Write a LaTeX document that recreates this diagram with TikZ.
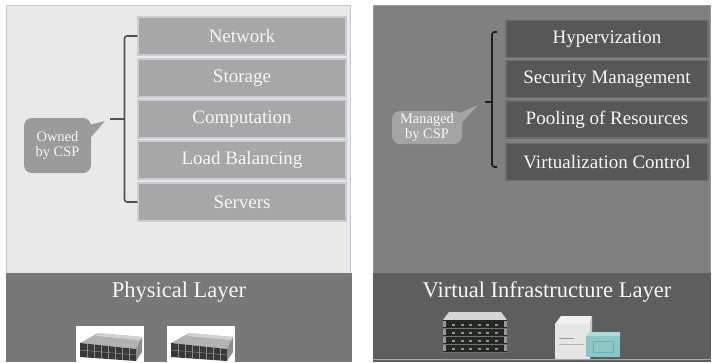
\documentclass[tikz,border=0pt]{standalone}
\usepackage{fontspec}
\setmainfont{Liberation Serif}
\usetikzlibrary{calc}
\definecolor{lightpanel}{HTML}{E9E9EA}
\definecolor{lightedge}{HTML}{C6CAD4}
\definecolor{physbox}{HTML}{A7A7A7}
\definecolor{physboxedge}{HTML}{C9CCD3}
\definecolor{physband}{HTML}{787878}
\definecolor{virtpanel}{HTML}{808080}
\definecolor{virtbox}{HTML}{575757}
\definecolor{virtboxedge}{HTML}{6C6C6C}
\definecolor{virtband}{HTML}{5E5E5E}
\definecolor{bubbleL}{HTML}{9B9B9B}
\definecolor{bubbleR}{HTML}{A4A4A4}
\definecolor{txt}{HTML}{F6F6F6}
\tikzset{
  layerbox/.style={minimum height=38, inner sep=0pt, text=txt,
    font=\fontsize{19}{21}\selectfont, line width=1.3},
  physitem/.style={layerbox, fill=physbox, draw=physboxedge, minimum width=208},
  virtitem/.style={layerbox, fill=virtbox, draw=virtboxedge, minimum width=202, minimum height=37},
  layertitle/.style={text=txt, font=\fontsize{22.5}{24}\selectfont, inner sep=0pt},
  bubble/.style={rounded corners=8, inner sep=1pt, text=txt, align=center,
    font=\fontsize{14.5}{15.5}\selectfont},
  bracket/.style={line width=1.6, rounded corners=2.5},
}
\begin{document}
\begin{tikzpicture}[x=1pt,y=-1pt]
\useasboundingbox (0,0) rectangle (714,362);
\fill[white] (0,0) rectangle (714,362);

% ---- physical layer panel ----
\fill[lightpanel] (6,5) rectangle (351,273);
\draw[lightedge, line width=1.2] (6.6,273) -- (6.6,5.6) -- (350.4,5.6) -- (350.4,273);
\fill[physband] (6,273) rectangle (352,362);

\node[physitem] (net) at (242,36)  {Network};
\node[physitem] (sto) at (242,78)  {Storage};
\node[physitem] (cmp) at (242,119) {Computation};
\node[physitem] (lbl) at (242,160) {Load Balancing};
\node[physitem] (srv) at (242,202) {Servers};

\coordinate (bl) at (124.5,119);
\coordinate (tipL) at (110,119);
\draw[bracket, draw=black!68] (net.west) -- (net.west -| bl) -- (srv.west -| bl) -- (srv.west);
\draw[line width=1.6, draw=black!68] (bl) -- (tipL);

\node[bubble, fill=bubbleL, minimum width=67, minimum height=55] (owned) at (57.5,145.5) {Owned\\by CSP};
\fill[bubbleL] ($(owned.east)+(-4,-20)$) -- ($(tipL)+(-5,2)$) -- ($(owned.east)+(-4,-4)$) -- cycle;

\node[layertitle] (phys) at (179,292) {Physical Layer};

% disk enclosures of the physical layer
\tikzset{diskunit/.pic={
  \fill[white] (0,0) rectangle (68,36);
  \fill[black!30] (4,17) -- (22,7) -- (66,11) -- (60,23) -- cycle;
  \fill[black!18] (22,7) -- (66,11) -- (64,14) -- (20,10) -- cycle;
  \fill[black!78] (4,17) -- (60,23) -- (60,35) -- (4,31) -- cycle;
  \fill[black!45] (60,23) -- (66,11) -- (66,26) -- (60,35) -- cycle;
  \foreach \k in {1,...,7} {
    \draw[black!45, line width=0.5] ($(4,17)!{\k/8}!(60,23)$) -- ($(4,31)!{\k/8}!(60,35)$);
  }
  \draw[black!45, line width=0.5] (4,24) -- (60,29);
}}
\pic (encA) at (76,326) {diskunit};
\pic (encB) at (167,326) {diskunit};

% ---- virtual infrastructure panel ----
\fill[virtpanel] (373,5) rectangle (711,273);
\draw[black!40, line width=0.8] (373.4,273) -- (373.4,5.4) -- (710.6,5.4) -- (710.6,273);
\fill[virtband] (373,273) rectangle (711,362);
\draw[black!35, line width=1] (373,359.5) -- (711,359.5);

\node[virtitem] (hyp) at (607,39)    {Hypervization};
\node[virtitem] (sec) at (607,79)    {Security Management};
\node[virtitem] (poo) at (607,119.5) {Pooling of Resources};
\node[virtitem] (vct) at (607,162)   {Virtualization Control};

\coordinate (brT) at (497,32);
\coordinate (brB) at (497,167);
\coordinate (br) at (492,102);
\coordinate (tipR) at (485,102);
\draw[bracket, draw=black!88] (brT) -- (brT -| br) -- (brB -| br) -- (brB);
\draw[line width=1.6, draw=black!88] (br) -- (tipR);

\node[bubble, fill=bubbleR, minimum width=70, minimum height=33] (managed) at (427,127.5) {Managed\\by CSP};
\fill[bubbleR] ($(managed.east)+(-4,-14)$) -- ($(tipR)+(-7,3)$) -- ($(managed.east)+(-4,-1)$) -- cycle;

\node[layertitle] (virt) at (547,292) {Virtual Infrastructure Layer};

% rack server
\fill[black!16] (449,312) -- (501,312) -- (507,320) -- (443,320) -- cycle;
\fill[black!85] (443,320) rectangle (507,353);
\foreach \r in {0,1,2,3} {
  \fill[black!40] (443,{321+8*\r}) rectangle (446,{327+8*\r});
  \fill[black!40] (504,{321+8*\r}) rectangle (507,{327+8*\r});
  \draw[black!55, line width=0.6] (443,{328+8*\r}) -- (507,{328+8*\r});
  \foreach \c in {0,...,5} {
    \fill[green!35!black!55] ({452+8.5*\c},{323.5+8*\r}) rectangle ({455+8.5*\c},{325.5+8*\r});
  }
}

% storage appliance with drive tray
\fill[black!6] (555,324) -- (561,316) -- (592,316) -- (590,324) -- cycle;
\fill[black!10] (555,324) rectangle (590,359);
\fill[black!22] (590,324) -- (592,316) -- (592,352) -- (590,359) -- cycle;
\draw[black!40, line width=0.7] (559,338) -- (574,338);
\draw[black!30, line width=0.5] (559,344) -- (584,344);
\fill[teal!45!white] (586,336) rectangle (620,357);
\fill[teal!30!white] (586,336) -- (590,332) -- (620,332) -- (620,336) -- cycle;
\draw[teal!60!white, line width=0.5] (593,341) rectangle (613,352);
\end{tikzpicture}
\end{document}
